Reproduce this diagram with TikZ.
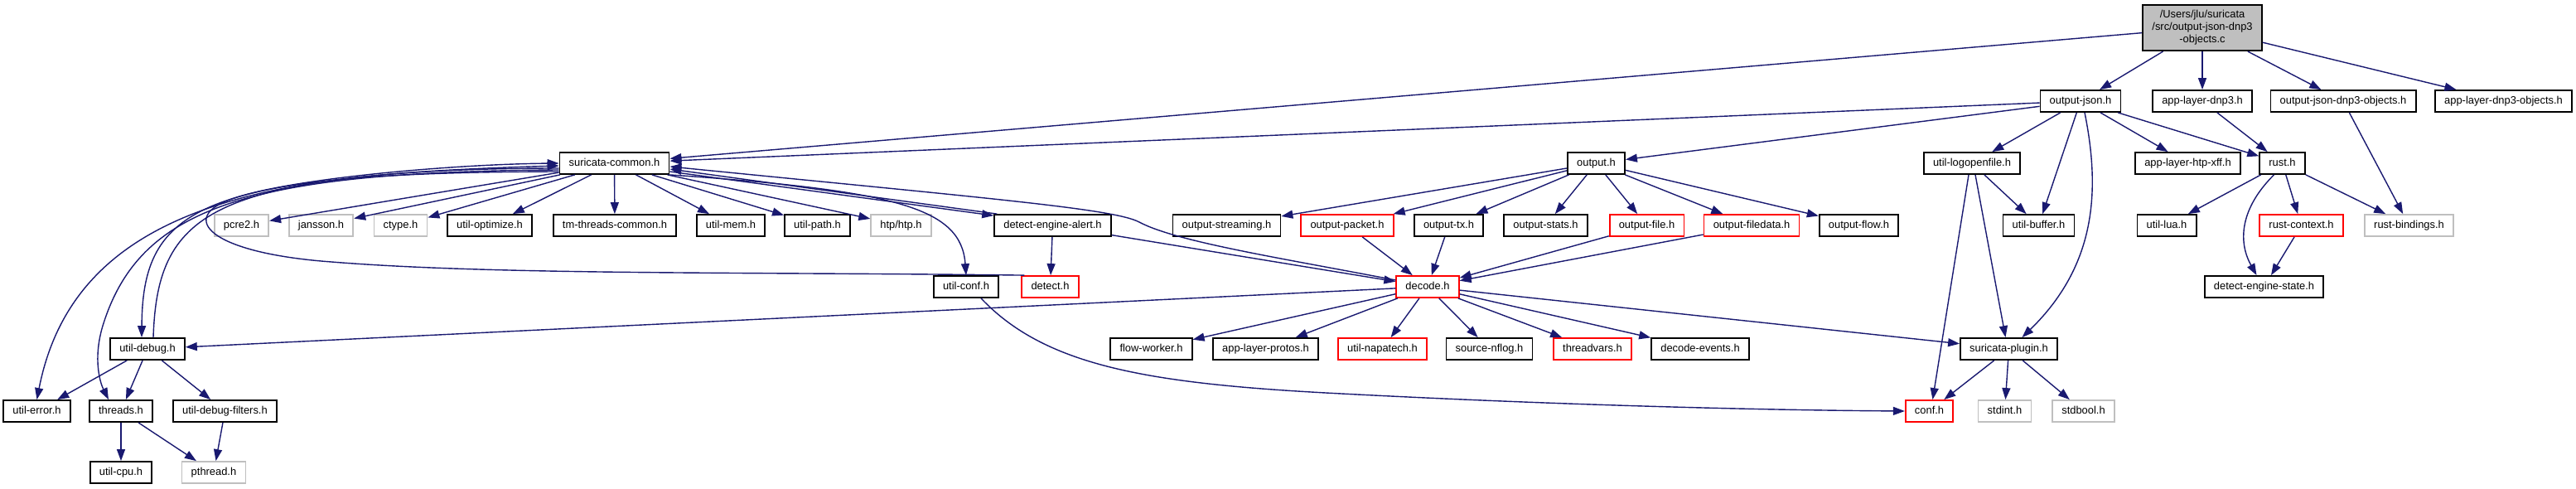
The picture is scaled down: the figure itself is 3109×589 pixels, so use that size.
\documentclass[tikz,border=0pt]{standalone}
\usepackage{fontspec}
\setmainfont{Liberation Sans}
\usepackage{xcolor}
\usepackage{tikz}
\usetikzlibrary{arrows.meta}

\definecolor{edgeblue}{HTML}{191970}
\definecolor{extgray}{HTML}{BFBFBF}

\begin{document}
\begin{tikzpicture}[
        x=0.5pt, y=-0.5pt,
        font=\fontsize{6.45}{7.5}\selectfont,
        hdr/.style={draw=black, fill=white, line width=0.9pt, inner xsep=5.6pt, inner ysep=0pt,
                    minimum height=13pt, text height=4.8pt, text depth=1.3pt},
        trunc/.style={hdr, draw=red},
        ext/.style={hdr, draw=extgray},
        srcbox/.style={draw=black, fill=extgray, line width=0.9pt, inner xsep=5.6pt,
                       minimum height=27.5pt, align=center},
        incl/.style={-{Stealth[length=7pt,width=5pt,inset=0pt]}, draw=edgeblue, line width=0.7pt}
    ]
    \useasboundingbox (0,0) rectangle (3109,589);

    % ---- source file ----
    \node[srcbox] (srcfile) at (2658,33.5) {/Users/jlu/suricata\\/src/output-json-dnp3\\-objects.c};

    % ---- row 1 ----
    \node[hdr] (outjson) at (2511,122) {output-json.h};
    \node[hdr] (dnpthree) at (2658,122) {app-layer-dnp3.h};
    \node[hdr] (ojdnpobj) at (2828,122) {output-json-dnp3-objects.h};
    \node[hdr] (dnpobj) at (3021.5,122) {app-layer-dnp3-objects.h};

    % ---- row 2 ----
    \node[hdr] (surcommon) at (741.5,197) {suricata-common.h};
    \node[hdr] (output) at (1926.5,197) {output.h};
    \node[hdr] (logopen) at (2380,197) {util-logopenfile.h};
    \node[hdr] (htpxff) at (2640.5,197) {app-layer-htp-xff.h};
    \node[hdr] (rusth) at (2754.5,197) {rust.h};

    % ---- row 3 ----
    \node[ext] (pcretwo) at (291.5,272) {pcre2.h};
    \node[ext] (jansson) at (387.5,272) {jansson.h};
    \node[ext] (ctype) at (483.5,272) {ctype.h};
    \node[hdr] (utilopt) at (591,272) {util-optimize.h};
    \node[hdr] (tmthreads) at (742,272) {tm-threads-common.h};
    \node[hdr] (utilmem) at (882,272) {util-mem.h};
    \node[hdr] (utilpath) at (986.5,272) {util-path.h};
    \node[ext] (htp) at (1087.5,272) {htp/htp.h};
    \node[hdr] (dealert) at (1270.5,272) {detect-engine-alert.h};
    \node[hdr] (ostream) at (1480.5,272) {output-streaming.h};
    \node[trunc] (opacket) at (1626,272) {output-packet.h};
    \node[hdr] (otx) at (1748.5,272) {output-tx.h};
    \node[hdr] (ostats) at (1865.5,272) {output-stats.h};
    \node[trunc] (ofile) at (1987.5,272) {output-file.h};
    \node[trunc] (ofiledata) at (2114,272) {output-filedata.h};
    \node[hdr] (oflow) at (2243.5,272) {output-flow.h};
    \node[hdr] (utilbuffer) at (2460.5,272) {util-buffer.h};
    \node[hdr] (utillua) at (2615,272) {util-lua.h};
    \node[trunc] (rustctx) at (2777.5,272) {rust-context.h};
    \node[ext] (rustbind) at (2907.5,272) {rust-bindings.h};

    % ---- row 4 ----
    \node[hdr] (utilconf) at (1166,346) {util-conf.h};
    \node[trunc] (detect) at (1267.5,346) {detect.h};
    \node[trunc] (decode) at (1723,346) {decode.h};
    \node[hdr] (destate) at (2732.5,346) {detect-engine-state.h};

    % ---- row 5 ----
    \node[hdr] (utildebug) at (178,421) {util-debug.h};
    \node[hdr] (flowworker) at (1389.5,421) {flow-worker.h};
    \node[hdr] (protos) at (1527.5,421) {app-layer-protos.h};
    \node[trunc] (napatech) at (1668.5,421) {util-napatech.h};
    \node[hdr] (nflog) at (1797.5,421) {source-nflog.h};
    \node[trunc] (threadvars) at (1922,421) {threadvars.h};
    \node[hdr] (decevents) at (2052,421) {decode-events.h};
    \node[hdr] (surplugin) at (2424.5,421) {suricata-plugin.h};

    % ---- row 6 ----
    \node[hdr] (utilerror) at (44.5,496) {util-error.h};
    \node[hdr] (threads) at (146,496) {threads.h};
    \node[hdr] (dbgfilters) at (271.5,496) {util-debug-filters.h};
    \node[trunc] (conf) at (2328.5,496) {conf.h};
    \node[ext] (stdint) at (2419.5,496) {stdint.h};
    \node[ext] (stdbool) at (2514.5,496) {stdbool.h};

    % ---- row 7 ----
    \node[hdr] (utilcpu) at (146,570) {util-cpu.h};
    \node[ext] (pthread) at (258,570) {pthread.h};

    % ---- includes of the source file ----
    \foreach \dst in {surcommon,outjson,dnpthree,ojdnpobj,dnpobj}
        \draw[incl] (srcfile) -- (\dst);

    % ---- output-json.h and rust ----
    \foreach \dst in {surcommon,output,logopen,utilbuffer,htpxff,rusth}
        \draw[incl] (outjson) -- (\dst);
    \draw[incl] ([xshift=2.5pt]outjson.south) .. controls (2535,230) and (2530,320) .. ([xshift=8pt]surplugin.north);
    \draw[incl] (dnpthree) -- (rusth);
    \draw[incl] (ojdnpobj) -- (rustbind);
    \foreach \dst in {utillua,rustctx,rustbind}
        \draw[incl] (rusth) -- (\dst);
    \draw[incl] ([xshift=-5pt]rusth.south) .. controls (2705,250) and (2700,290) .. ([xshift=-4.5pt]destate.north);
    \draw[incl] (rustctx) -- (destate);
    \draw[incl] (logopen) -- (utilbuffer);
    \draw[incl] ([xshift=-2pt]logopen.south) -- ([xshift=2pt]conf.north);
    \draw[incl] ([xshift=2pt]logopen.south) -- ([xshift=-2pt]surplugin.north);

    % ---- output.h ----
    \foreach \dst in {ostream,opacket,otx,ostats,ofile,ofiledata,oflow}
        \draw[incl] (output) -- (\dst);
    \foreach \src in {opacket,otx,ofile,ofiledata}
        \draw[incl] (\src) -- (decode);

    % ---- suricata-common.h ----
    \foreach \dst in {pcretwo,jansson,ctype,utilopt,tmthreads,utilmem,utilpath,htp}
        \draw[incl] (surcommon) -- (\dst);
    \draw[incl] ([yshift=-5pt]surcommon.east) -- ([yshift=-1pt]dealert.north west);
    \draw[incl] ([xshift=2pt]dealert.north west) -- ([yshift=-3.5pt]surcommon.east);
    \draw[incl] (surcommon.south east) .. controls (1080,230) and (1160,250) .. (utilconf.north);
    \draw[incl] ([yshift=-3pt]surcommon.west) .. controls (320,203) and (90,250) .. (utilerror.north);
    \draw[incl] ([yshift=-4pt]surcommon.west) .. controls (300,207) and (170,250) .. (125,390)
        .. controls (112,430) and (120,460) .. ([xshift=-7.5pt]threads.north);
    \draw[incl] ([yshift=-5pt]surcommon.west) .. controls (240,208) and (172,250) .. ([xshift=-3.5pt]utildebug.north);
    \draw[incl] ([xshift=3.5pt]utildebug.north) .. controls (190,250) and (260,212) .. ([yshift=-1.5pt]surcommon.west);
    \draw[incl] ([xshift=2pt]detect.north west) .. controls (900,328) and (600,332) .. (400,316)
        .. controls (250,305) and (215,262) .. (280,240) .. controls (350,215) and (550,198) .. (surcommon.west);

    % ---- detect-engine-alert.h and decode.h ----
    \draw[incl] (dealert) -- (detect);
    \draw[incl] (dealert) -- (decode);
    \draw[incl] ([yshift=4pt]decode.west) .. controls (1550,312) and (1420,292) .. (1375,268)
        .. controls (1345,252) and (1200,240) .. ([yshift=-2pt]surcommon.east);
    \foreach \dst in {flowworker,protos,napatech,nflog,threadvars,decevents,surplugin,utildebug}
        \draw[incl] (decode) -- (\dst);
    \draw[incl] ([xshift=9pt]utilconf.south) .. controls (1260,440) and (1380,462) .. (1600,474)
        .. controls (1900,490) and (2150,495) .. (conf.west);

    % ---- bottom rows ----
    \foreach \dst in {conf,stdint,stdbool}
        \draw[incl] (surplugin) -- (\dst);
    \foreach \dst in {utilerror,threads,dbgfilters}
        \draw[incl] (utildebug) -- (\dst);
    \draw[incl] (threads) -- (utilcpu);
    \draw[incl] (threads) -- (pthread);
    \draw[incl] (dbgfilters) -- (pthread);
\end{tikzpicture}
\end{document}
